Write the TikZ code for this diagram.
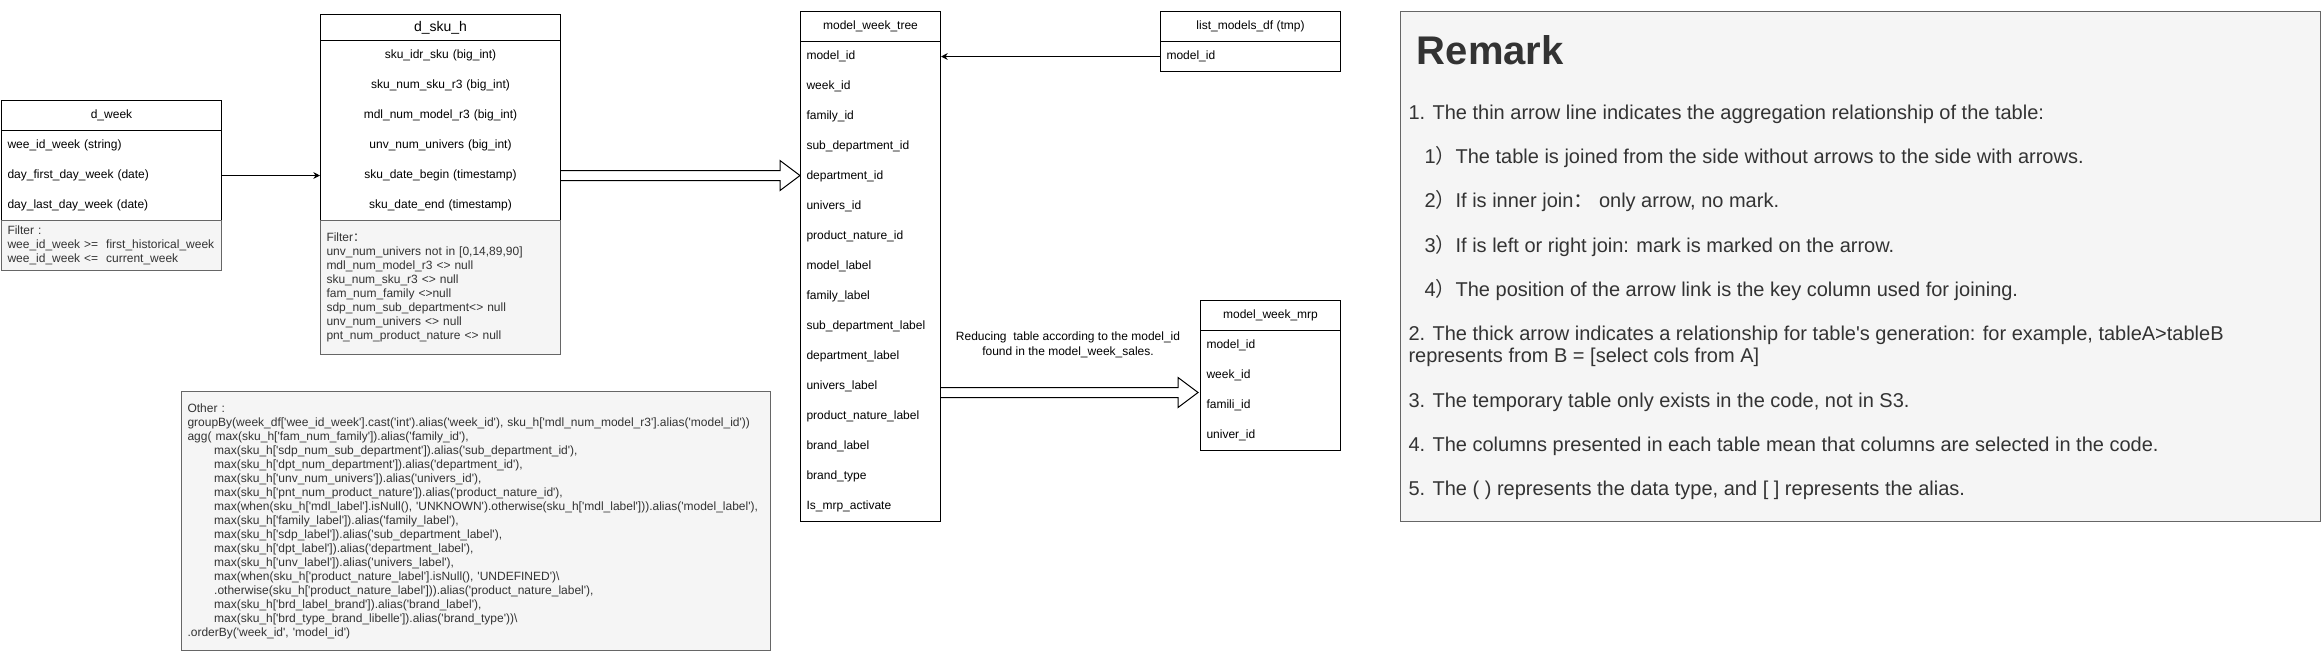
\documentclass[tikz,border=0pt]{standalone}
\usepackage{fontspec}
\setmainfont{Liberation Sans}[Ligatures=TeXOff]
\newfontfamily\cjk{Noto Sans CJK SC}
\usetikzlibrary{calc,arrows.meta}
\definecolor{notefill}{HTML}{F5F5F5}
\definecolor{noteline}{HTML}{666666}
\definecolor{notetext}{HTML}{333333}

\newcommand{\genarrow}[2]{%
  \draw[fill=white] ($(#1)+(0,-5)$) -- ($(#2)+(-20,-5)$) -- ++(0,-10) -- (#2) -- ++(-20,15) -- ++(0,-10) -- ($(#1)+(0,5)$);}

\begin{document}
\begin{tikzpicture}[x=0.75pt, y=-0.75pt, line width=0.75pt,
    font=\fontsize{9pt}{11pt}\selectfont,
    tblhead/.style={shape=rectangle, draw, anchor=north west, minimum height=22.5pt, inner sep=0pt},
    tblbody/.style={shape=rectangle, draw, anchor=north west, inner sep=0pt},
    col/.style={anchor=north west, minimum height=22.5pt, inner xsep=4.5pt, inner ysep=0pt, align=left, text width=#1},
    note/.style={shape=rectangle, draw=noteline, fill=notefill, text=notetext, anchor=north west, align=left,
        inner xsep=4.5pt, font=\fontsize{9pt}{10.5pt}\selectfont},
    link/.style={-{Stealth[length=5pt, width=5pt]}}]
    \useasboundingbox (0, 0) rectangle (2321, 651);

    \node[tblhead, minimum width=165pt] (dweek) at (1, 100) {d\_week};
    \node[tblbody, minimum width=165pt, minimum height=67.5pt] (dweekbody) at (1, 130) {};
    \node[col=156pt] (wk1) at (1, 130) {wee\_id\_week (string)};
    \node[col=156pt] (wk2) at (1, 160) {day\_first\_day\_week (date)};
    \node[col=156pt] (wk3) at (1, 190) {day\_last\_day\_week (date)};
    \node[note, text width=156pt, minimum height=37.5pt] (wkfilter) at (1, 220) {Filter :\\wee\_id\_week >= \ first\_historical\_week\\wee\_id\_week <= \ current\_week};

    \node[tblhead, minimum width=180pt, minimum height=19.5pt, font=\fontsize{10.5pt}{12pt}\selectfont] (dsku) at (320, 14) {d\_sku\_h};
    \node[tblbody, minimum width=180pt, minimum height=135pt] (dskubody) at (320, 40) {};
    \node[col=171pt, align=center] (sku1) at (320, 40) {sku\_idr\_sku (big\_int)};
    \node[col=171pt, align=center] (sku2) at (320, 70) {sku\_num\_sku\_r3 (big\_int)};
    \node[col=171pt, align=center] (sku3) at (320, 100) {mdl\_num\_model\_r3 (big\_int)};
    \node[col=171pt, align=center] (sku4) at (320, 130) {unv\_num\_univers (big\_int)};
    \node[col=171pt, align=center] (sku5) at (320, 160) {sku\_date\_begin (timestamp)};
    \node[col=171pt, align=center] (sku6) at (320, 190) {sku\_date\_end (timestamp)};
    \node[note, text width=171pt, minimum height=100.5pt] (skufilter) at (320, 220) {Filter{\cjk ：}\\unv\_num\_univers not in [0,14,89,90]\\mdl\_num\_model\_r3 <> null\\sku\_num\_sku\_r3 <> null\\fam\_num\_family <>null\\sdp\_num\_sub\_department<> null\\unv\_num\_univers <> null\\pnt\_num\_product\_nature <> null};

    \node[note, text width=432.75pt, minimum height=194.25pt] (other) at (181, 391) {Other :\\
groupBy(week\_df['wee\_id\_week'].cast('int').alias('week\_id'), sku\_h['mdl\_num\_model\_r3'].alias('model\_id'))\\
agg( max(sku\_h['fam\_num\_family']).alias('family\_id'),\\
\hspace*{20pt}max(sku\_h['sdp\_num\_sub\_department']).alias('sub\_department\_id'),\\
\hspace*{20pt}max(sku\_h['dpt\_num\_department']).alias('department\_id'),\\
\hspace*{20pt}max(sku\_h['unv\_num\_univers']).alias('univers\_id'),\\
\hspace*{20pt}max(sku\_h['pnt\_num\_product\_nature']).alias('product\_nature\_id'),\\
\hspace*{20pt}max(when(sku\_h['mdl\_label'].isNull(), 'UNKNOWN').otherwise(sku\_h['mdl\_label'])).alias('model\_label'),\\
\hspace*{20pt}max(sku\_h['family\_label']).alias('family\_label'),\\
\hspace*{20pt}max(sku\_h['sdp\_label']).alias('sub\_department\_label'),\\
\hspace*{20pt}max(sku\_h['dpt\_label']).alias('department\_label'),\\
\hspace*{20pt}max(sku\_h['unv\_label']).alias('univers\_label'),\\
\hspace*{20pt}max(when(sku\_h['product\_nature\_label'].isNull(), 'UNDEFINED')\textbackslash\\
\hspace*{20pt}.otherwise(sku\_h['product\_nature\_label'])).alias('product\_nature\_label'),\\
\hspace*{20pt}max(sku\_h['brd\_label\_brand']).alias('brand\_label'),\\
\hspace*{20pt}max(sku\_h['brd\_type\_brand\_libelle']).alias('brand\_type'))\textbackslash\\
.orderBy('week\_id', 'model\_id')};

    \node[tblhead, minimum width=105pt] (tree) at (800, 11) {model\_week\_tree};
    \node[tblbody, minimum width=105pt, minimum height=360pt] (treebody) at (800, 41) {};
    \node[col=96pt] (tree1) at (800, 41) {model\_id};
    \node[col=96pt] (tree2) at (800, 71) {week\_id};
    \node[col=96pt] (tree3) at (800, 101) {family\_id};
    \node[col=96pt] (tree4) at (800, 131) {sub\_department\_id};
    \node[col=96pt] (tree5) at (800, 161) {department\_id};
    \node[col=96pt] (tree6) at (800, 191) {univers\_id};
    \node[col=96pt] (tree7) at (800, 221) {product\_nature\_id};
    \node[col=96pt] (tree8) at (800, 251) {model\_label};
    \node[col=96pt] (tree9) at (800, 281) {family\_label};
    \node[col=96pt] (tree10) at (800, 311) {sub\_department\_label};
    \node[col=96pt] (tree11) at (800, 341) {department\_label};
    \node[col=96pt] (tree12) at (800, 371) {univers\_label};
    \node[col=96pt] (tree13) at (800, 401) {product\_nature\_label};
    \node[col=96pt] (tree14) at (800, 431) {brand\_label};
    \node[col=96pt] (tree15) at (800, 461) {brand\_type};
    \node[col=96pt] (tree16) at (800, 491) {Is\_mrp\_activate};

    \node[tblhead, minimum width=135pt] (lmdf) at (1160, 11) {list\_models\_df (tmp)};
    \node[col=126pt, draw] (lm1) at (1160, 41) {model\_id};

    \node[tblhead, minimum width=105pt] (mrp) at (1200, 300) {model\_week\_mrp};
    \node[tblbody, minimum width=105pt, minimum height=90pt] (mrpbody) at (1200, 330) {};
    \node[col=96pt] (mrp1) at (1200, 330) {model\_id};
    \node[col=96pt] (mrp2) at (1200, 360) {week\_id};
    \node[col=96pt] (mrp3) at (1200, 390) {famili\_id};
    \node[col=96pt] (mrp4) at (1200, 420) {univer\_id};

    \node[align=center, font=\fontsize{9pt}{11.25pt}\selectfont] (reduce) at (1068, 345) {Reducing\ \ table according to the model\_id\\found in the model\_week\_sales.};

    \node[shape=rectangle, draw=noteline, fill=notefill, anchor=north west, minimum width=690pt, minimum height=382.5pt] (remark) at (1400, 11) {};
    \node[anchor=west, text=notetext, font=\fontsize{30pt}{34pt}\selectfont\bfseries] (remarktitle) at (1412, 50) {Remark};
    \node[anchor=north west, inner sep=0pt, align=left, text=notetext, font=\fontsize{15pt}{16.63pt}\selectfont] (remarktext) at (1408, 104) {1. The thin arrow line indicates the aggregation relationship of the table:\\[16.63pt]
\hspace*{12pt}1{\cjk ）}The table is joined from the side without arrows to the side with arrows.\\[16.63pt]
\hspace*{12pt}2{\cjk ）}If is inner join{\cjk ：}\ only arrow, no mark.\\[16.63pt]
\hspace*{12pt}3{\cjk ）}If is left or right join: mark is marked on the arrow.\\[16.63pt]
\hspace*{12pt}4{\cjk ）}The position of the arrow link is the key column used for joining.\\[16.63pt]
2. The thick arrow indicates a relationship for table's generation: for example, tableA>tableB\\
represents from B = [select cols from A]\\[16.63pt]
3. The temporary table only exists in the code, not in S3.\\[16.63pt]
4. The columns presented in each table mean that columns are selected in the code.\\[16.63pt]
5. The ( ) represents the data type, and [ ] represents the alias.};

    \draw[link] (wk2.east) -- (sku5.west);
    \draw[link] (lm1.west) -- (tree1.east);
    \coordinate (tip1) at (sku5.east -| treebody.west);
    \genarrow{sku5.east}{tip1}
    \coordinate (gen2) at ($(tree12.east)+(0,6)$);
    \coordinate (tip2) at ($(gen2 -| mrpbody.west)+(-2,0)$);
    \genarrow{gen2}{tip2}
\end{tikzpicture}
\end{document}
